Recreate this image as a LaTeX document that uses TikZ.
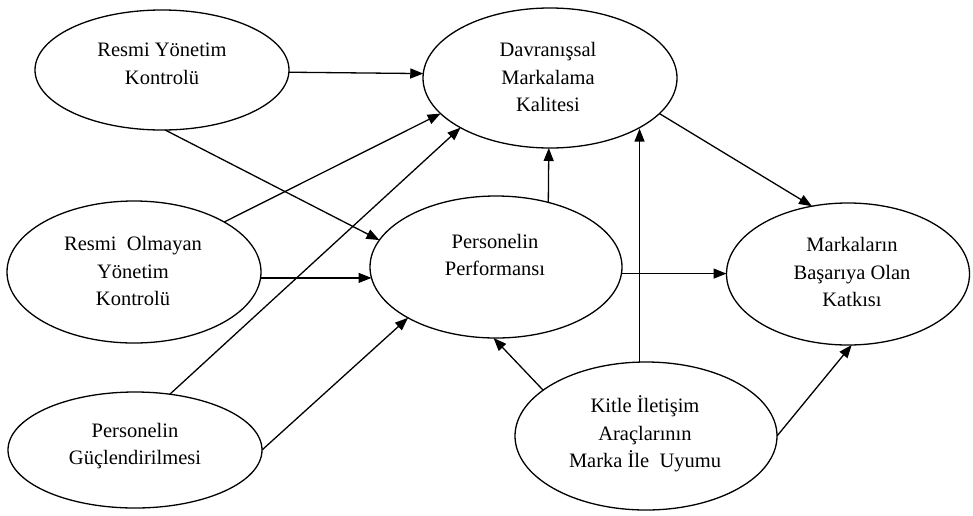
\documentclass[tikz,border=0pt]{standalone}
\usepackage{fontspec}
\setmainfont{Liberation Serif}
\usetikzlibrary{arrows.meta,shapes.geometric}
\begin{document}
\begin{tikzpicture}[x=1pt,y=-1pt,
  oval/.style={draw, ellipse, line width=1.3pt, inner sep=0pt, outer sep=0pt},
  lbl/.style={align=center, font=\fontsize{20.5}{27.5}\selectfont, inner sep=0pt},
  arr/.style={line width=1.3pt, -{Triangle[length=13pt,width=10pt]}}]
\useasboundingbox (0,0) rectangle (973,515);

% ellipses
\node[oval, minimum width=254pt, minimum height=120pt] (A) at (162,70) {};
\node[oval, minimum width=254pt, minimum height=140pt] (B) at (550,78) {};
\node[oval, minimum width=254pt, minimum height=142pt] (C) at (134,272) {};
\node[oval, minimum width=254pt, minimum height=116pt] (D) at (135,450) {};
\node[oval, minimum width=252pt, minimum height=142pt] (E) at (496,267) {};
\node[oval, minimum width=243pt, minimum height=142pt] (F) at (848,274) {};
\node[oval, minimum width=262pt, minimum height=148pt] (G) at (646,436) {};

% labels
\node[lbl] (At) at (162,64) {Resmi Yönetim\\Kontrolü};
\node[lbl] (Bt) at (548,77) {Davranışsal\\Markalama\\Kalitesi};
\node[lbl] (Ct) at (133,271) {Resmi\ \ Olmayan\\Yönetim\\Kontrolü};
\node[lbl] (Dt) at (135,446) {Personelin\\Güçlendirilmesi};
\node[lbl] (Et) at (495,255) {Personelin\\Performansı};
\node[lbl] (Ft) at (852,272) {Markaların\\Başarıya Olan\\Katkısı};
\node[lbl] (Gt) at (645,434) {Kitle İletişim\\Araçlarının\\Marka İle\ \ Uyumu};

% connectors
\draw[arr] (A.-1) -- (B.178);
\draw[arr] (A.-87) -- (E.167);
\draw[arr] (C.29) -- (B.198);
\draw[arr] (C.east |- E.185) -- (E.185);
\draw[arr] (D.58) -- (B.209);
\draw[arr] (D.0) -- (E.210);
\draw[arr] (E.51) -- (B.-91);
\draw[arr] (E.-3) -- (E.-3 -| F.west);
\draw[arr] (B.-18) -- (F.118);
\draw[arr] (G.156) -- (E.-92);
\draw[arr] (G.95) -- (G.95 |- B.-30);
\draw[arr] (G.0) -- (F.-87);
\end{tikzpicture}
\end{document}
